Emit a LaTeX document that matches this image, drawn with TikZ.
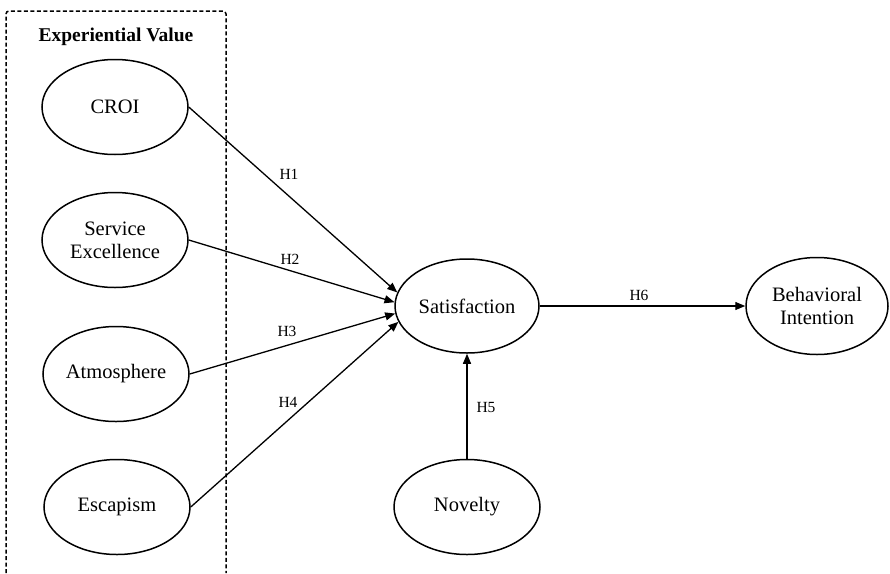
\documentclass[tikz,border=0pt]{standalone}
\usepackage{fontspec}
\setmainfont{Liberation Serif}
\usetikzlibrary{shapes.geometric,arrows.meta}
\begin{document}
\begin{tikzpicture}[x=1pt,y=-1pt,
  latent/.style={draw,ellipse,line width=1.5pt,minimum width=146pt,minimum height=95pt,inner sep=0pt,align=center,font=\fontsize{20.5}{23}\selectfont},
  path/.style={line width=1.3pt,-{Triangle[length=10pt,width=8pt]}},
  hlab/.style={font=\fontsize{15.5}{17}\selectfont},
  group/.style={dash pattern=on 4pt off 2.5pt,line width=1.5pt,rounded corners=3pt}]
\useasboundingbox (0,0) rectangle (890,573);
\draw[group] (6,573) -- (6,11) -- (226,11) -- (226,573);
\node[font=\fontsize{19.5}{22}\selectfont\bfseries] (ev) at (116,37) {Experiential Value};
\node[latent] (croi) at (115,107) {CROI};
\node[latent] (se) at (115,240) {Service\\Excellence};
\node[latent] (atm) at (116,374) {Atmosphere};
\node[latent] (esc) at (117,507) {Escapism};
\node[latent,minimum width=144pt,minimum height=94pt] (sat) at (467,306) {Satisfaction};
\node[latent,minimum width=142pt,minimum height=97pt] (bi) at (817,306) {Behavioral\\Intention};
\node[latent] (nov) at (467,507) {Novelty};
\draw[path] (croi.east) -- (sat.169);
\draw[path] (se.east) -- (sat.177);
\draw[path] (atm.east) -- (sat.186);
\draw[path] (esc.east) -- (sat.193);
\draw[path] (sat.east) -- (bi.west);
\draw[path] (nov.north) -- (sat.south);
\node[hlab] (h1) at (289,174) {H1};
\node[hlab] (h2) at (290,259) {H2};
\node[hlab] (h3) at (287,331) {H3};
\node[hlab] (h4) at (288,402) {H4};
\node[hlab] (h5) at (486,407) {H5};
\node[hlab] (h6) at (639,295) {H6};
\end{tikzpicture}
\end{document}
